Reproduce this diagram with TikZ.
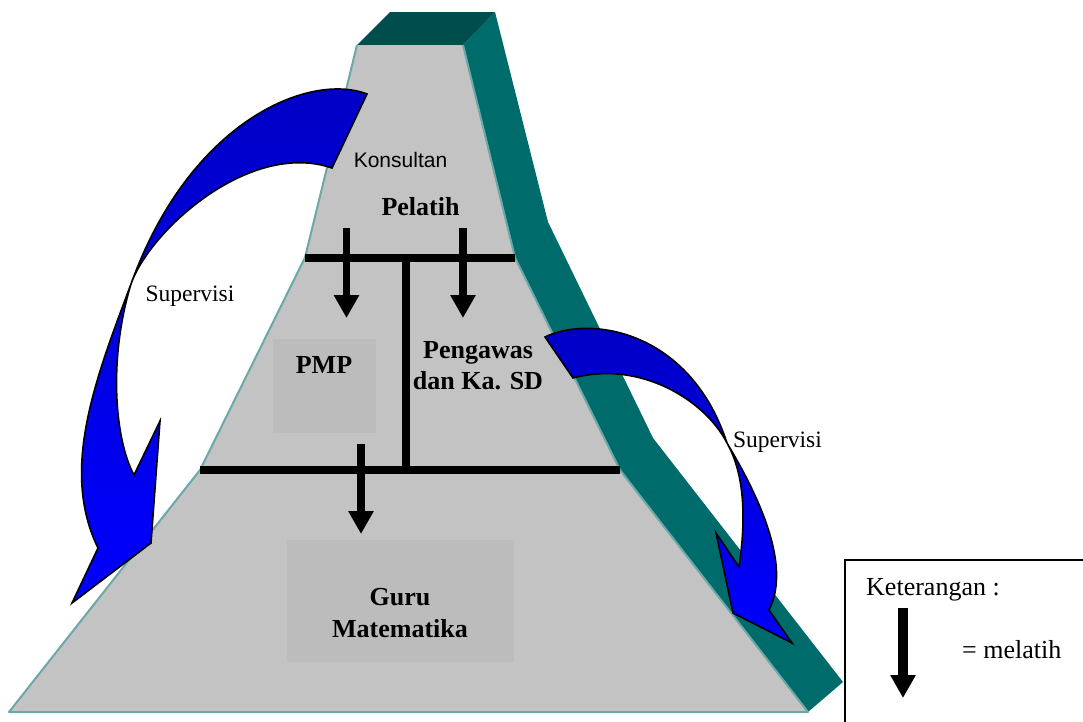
\documentclass[tikz,border=0pt]{standalone}
\usepackage{fontspec}
\setmainfont{Liberation Serif}
\newfontfamily\arialfont{Liberation Sans}
\usetikzlibrary{arrows.meta}
\definecolor{facegray}{HTML}{C3C3C3}
\definecolor{boxgray}{HTML}{BCBCBC}
\definecolor{sideteal}{HTML}{006B6B}
\definecolor{topteal}{HTML}{004D4D}
\definecolor{edgeteal}{HTML}{6BA8A8}
\definecolor{blueA}{HTML}{0000C4}
\definecolor{blueB}{HTML}{0000FF}
\tikzset{
  trainarrow/.style={line width=7.5pt, -{Triangle[width=24pt,length=23pt]}},
  barline/.style={line width=8pt},
  boldlbl/.style={font=\fontsize{26}{31}\selectfont\bfseries, inner sep=0pt, anchor=base},
  plainlbl/.style={font=\fontsize{23.5}{28}\selectfont, inner sep=0pt, anchor=base},
  keylbl/.style={font=\fontsize{26}{31}\selectfont, inner sep=0pt, anchor=base west},
  bluearrow/.style={draw=black, line width=1.6pt, top color=blueA, bottom color=blueB, line join=miter},
  innerbox/.style={fill=boxgray, draw=none}
}
\begin{document}
\begin{tikzpicture}[x=1pt,y=-1pt]
\useasboundingbox (0,0) rectangle (1083,721);
\fill[white] (0,0) rectangle (1083,721);

% side face
\fill[sideteal] (463,45) -- (495,12) -- (548,222) -- (653,438) -- (843,682) -- (808,712) -- (620,470) -- (515,257.5) -- cycle;
% top face
\fill[topteal] (357,45) -- (390,12) -- (495,12) -- (463,45) -- cycle;
% front face
\fill[facegray] (357,45) -- (305,257.5) -- (200,470) -- (9,712) -- (808,712) -- (620,470) -- (515,257.5) -- (463,45) -- cycle;
\draw[edgeteal, line width=2pt, line join=round] (357,45) -- (305,257.5) -- (200,470) -- (9,712) -- (808,712) -- (620,470) -- (515,257.5) -- (463,45);

% inner boxes
\fill[innerbox] (273,339) rectangle (376,433);
\fill[innerbox] (287,540) rectangle (514,662);

% bars
\coordinate (tbL) at (305,257.5);
\coordinate (tbR) at (515,257.5);
\coordinate (bbL) at (200,470);
\coordinate (bbR) at (620,470);
\coordinate (vbT) at (405.5,257.5);
\coordinate (vbB) at (405.5,470);
\draw[barline] (tbL) -- (tbR);
\draw[barline] (bbL) -- (bbR);
\draw[barline] (vbT) -- (vbB);

% training arrows
\coordinate (a1s) at (346.5,228);
\coordinate (a1e) at (346.5,318);
\coordinate (a2s) at (463,228);
\coordinate (a2e) at (463,318);
\coordinate (a3s) at (361,444);
\coordinate (a3e) at (361,534);
\draw[trainarrow] (a1s) -- (a1e);
\draw[trainarrow] (a2s) -- (a2e);
\draw[trainarrow] (a3s) -- (a3e);

% left supervision arrow
\shadedraw[bluearrow] (367,94)
  .. controls (310,72) and (190,120) .. (131,284)
  .. controls (95,380) and (60,470) .. (98,548)
  -- (72,603) -- (151,543) -- (160,421) -- (134,475)
  .. controls (115,440) and (108,360) .. (131,284)
  .. controls (150,230) and (250,140) .. (332,168)
  -- cycle;

% right supervision arrow
\shadedraw[bluearrow] (545,337)
  .. controls (590,315) and (690,330) .. (727,443)
  .. controls (758,495) and (792,565) .. (769,610)
  -- (792,643) -- (733,613) -- (716,533) -- (739,567)
  .. controls (746,520) and (745,475) .. (727,443)
  .. controls (705,400) and (640,360) .. (573,378)
  -- cycle;

% labels
\node[font=\fontsize{21}{25}\selectfont\arialfont, inner sep=0pt, anchor=base] (konsultan) at (400.5,167) {Konsultan};
\node[boldlbl] (pelatih) at (420.5,215) {Pelatih};
\node[boldlbl] (pmp) at (324,373) {PMP};
\node[boldlbl] (pengawas) at (478,358) {Pengawas};
\node[boldlbl] (kasd) at (478,389) {dan Ka. SD};
\node[boldlbl] (guru) at (400,605) {Guru};
\node[boldlbl] (matematika) at (400,637) {Matematika};
\node[plainlbl] (supL) at (190,301) {Supervisi};
\node[plainlbl] (supR) at (777.5,447) {Supervisi};

% legend
\draw[line width=2pt] (1090,560) -- (845,560) -- (845,730);
\node[keylbl] (ket) at (866,595) {Keterangan :};
\node[keylbl] (mel) at (962,658) {= melatih};
\coordinate (lgs) at (903,608);
\coordinate (lge) at (903,698);
\draw[trainarrow, line width=9.5pt] (lgs) -- (lge);
\end{tikzpicture}
\end{document}
